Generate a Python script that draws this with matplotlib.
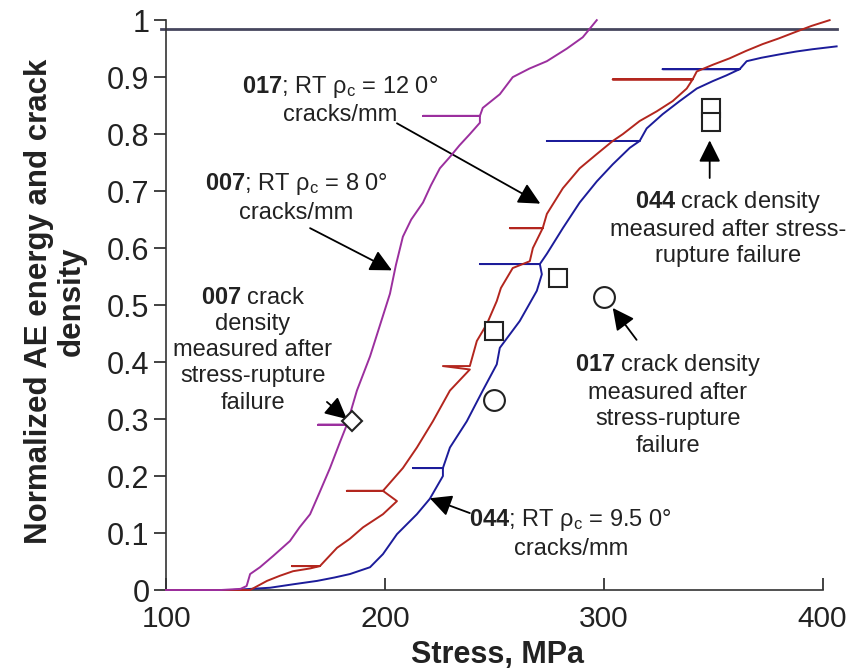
import matplotlib
matplotlib.use("Agg")
import matplotlib.pyplot as plt

plt.rcParams['font.family'] = ['Liberation Sans', 'DejaVu Sans']
plt.rcParams['mathtext.fontset'] = 'custom'
plt.rcParams['mathtext.rm'] = 'Liberation Sans'
plt.rcParams['mathtext.bf'] = 'Liberation Sans:bold'
plt.rcParams['mathtext.it'] = 'Liberation Sans:italic'

# normalized AE energy vs stress, one trace per specimen
# (the short horizontal excursions are load-hold events)
stress_007 = [100, 125, 134, 136.8, 138.4, 142.9, 149, 156.6, 161, 165.8, 170, 174.9,
              179.5, 182.6, 169.4, 182.6, 187.2, 193.2, 199, 202.3, 205, 208.2,
              212, 217.4, 221, 225.1, 229.7, 234, 238.8, 243.4, 243.4, 217.4, 243.4,
              244.7, 252.5, 258.4, 266, 274, 283.1, 290.4, 296.8]
value_007 = [0, 0, 0.002, 0.007, 0.028, 0.04, 0.06, 0.086, 0.11, 0.133, 0.17, 0.214,
             0.26, 0.29, 0.29, 0.29, 0.35, 0.41, 0.48, 0.52, 0.57, 0.62,
             0.65, 0.68, 0.71, 0.74, 0.76, 0.78, 0.80, 0.82, 0.832, 0.832, 0.832,
             0.846, 0.87, 0.90, 0.915, 0.928, 0.95, 0.97, 1.0]

stress_017 = [100, 138.4, 146.1, 152, 158, 166, 170.3, 157.5, 170.3, 178.1, 184, 190,
              199.1, 205.5, 199.1, 182.6, 199.1, 208.2, 214.6, 221.9, 229.7, 238.8,
              226.5, 238.8, 242, 246.6, 251.1, 253, 258.4, 266.2, 267.6, 272.1, 257.1,
              272.1, 274, 281.3, 289, 296.8, 304.1, 308.7, 316.4, 324.2, 331.5, 337.9,
              340.6, 304.1, 340.6, 342.5, 350, 357.5, 365, 372.6, 380, 388.1, 395, 403.2]
value_017 = [0, 0, 0.016, 0.025, 0.033, 0.038, 0.042, 0.042, 0.042, 0.074, 0.09, 0.11,
             0.133, 0.156, 0.174, 0.174, 0.174, 0.214, 0.25, 0.296, 0.35, 0.387,
             0.393, 0.393, 0.437, 0.467, 0.507, 0.53, 0.565, 0.577, 0.60, 0.635, 0.635,
             0.635, 0.66, 0.705, 0.74, 0.765, 0.788, 0.80, 0.823, 0.84, 0.858, 0.88,
             0.896, 0.896, 0.896, 0.91, 0.922, 0.933, 0.946, 0.958, 0.968, 0.98, 0.99, 1.0]

stress_044 = [100, 130, 147.5, 158, 169, 177, 184, 193.2, 199.1, 205.5, 214.6, 220.5,
              226.5, 226.5, 212.8, 226.5, 229.7, 237.4, 244.7, 251.1, 252.5, 261.6,
              269.4, 271.7, 270.8, 243.4, 270.8, 274, 281.3, 289, 296.8, 304.1, 311.9,
              316.4, 274, 316.4, 319.6, 326.9, 334.7, 342.5, 349.8, 356, 362.1, 326.9,
              362.1, 365.3, 372, 380.4, 388, 395.4, 406.4]
value_044 = [0, 0, 0.004, 0.01, 0.016, 0.022, 0.028, 0.04, 0.063, 0.098, 0.133, 0.16,
             0.20, 0.214, 0.214, 0.214, 0.25, 0.296, 0.35, 0.396, 0.425, 0.472,
             0.525, 0.554, 0.572, 0.572, 0.572, 0.59, 0.635, 0.68, 0.717, 0.747, 0.776,
             0.788, 0.788, 0.788, 0.81, 0.835, 0.858, 0.88, 0.893, 0.903, 0.914, 0.914,
             0.914, 0.928, 0.934, 0.94, 0.945, 0.949, 0.954]

# crack densities measured after stress-rupture failure
meas_007_x = [185]
meas_007_y = [0.297]
meas_044_x = [250, 279, 349, 349]
meas_044_y = [0.455, 0.547, 0.846, 0.822]
meas_017_x = [250, 300]
meas_017_y = [0.333, 0.514]

fig = plt.figure(figsize=(8.65, 6.72), dpi=100)
ax = fig.add_axes([0.192, 0.122, 0.759, 0.848])

ax.plot(stress_044, value_044, color='#1c1c9a', lw=1.4, clip_on=False, zorder=3)
ax.plot(stress_017, value_017, color='#b3261e', lw=1.4, clip_on=False, zorder=4)
ax.plot(stress_007, value_007, color='#9b2f9e', lw=1.4, clip_on=False, zorder=5)
ax.plot([97.5, 406.8], [0.985, 0.985], color='#46465e', lw=2, clip_on=False, zorder=2)

mk = dict(ls='none', mfc='white', mec='#222222', mew=1.5, zorder=6, clip_on=False)
ax.plot(meas_007_x, meas_007_y, marker='D', ms=10, **mk)
ax.plot(meas_044_x, meas_044_y, marker='s', ms=13, **mk)
ax.plot(meas_017_x, meas_017_y, marker='o', ms=15, **mk)

ax.set_xlim(100, 400)
ax.set_ylim(0, 1)
ax.set_xticks([100, 200, 300, 400])
ax.set_yticks([0, 0.1, 0.2, 0.3, 0.4, 0.5, 0.6, 0.7, 0.8, 0.9, 1])
ax.set_yticklabels(['0', '0.1', '0.2', '0.3', '0.4', '0.5', '0.6', '0.7', '0.8', '0.9', '1'])
ax.tick_params(axis='x', direction='in', length=9, width=1.2, labelsize=21.5, pad=11,
               colors='#222222')
ax.tick_params(axis='y', direction='out', length=9, width=1.2, labelsize=22, pad=3,
               colors='#222222')
for side in ['top', 'right']:
    ax.spines[side].set_visible(False)
for side in ['left', 'bottom']:
    ax.spines[side].set_color('#333333')
    ax.spines[side].set_linewidth(1.2)

fig.text(0.575, 0.025, 'Stress, MPa', fontsize=22, fontweight='bold', ha='center',
         va='center', color='#222222')
fig.text(0.064, 0.552, 'Normalized AE energy and crack\ndensity', fontsize=22.5,
         fontweight='bold', rotation=90, ha='center', va='center',
         multialignment='center', linespacing=1.1, color='#222222')

txt = dict(fontsize=17, ha='center', va='center', multialignment='center',
           linespacing=1.25, color='#222222', zorder=7)
arrow = dict(arrowstyle='-|>,head_length=0.6,head_width=0.3', mutation_scale=22,
             color='black', lw=1.3, shrinkA=0, shrinkB=0)

ax.text(179.5, 0.86, '$\\mathbf{017}$; RT ρ$_\\mathrm{c}$ = 12 0°\ncracks/mm', **txt)
ax.annotate('', xy=(271, 0.678), xytext=(205.5, 0.819), arrowprops=arrow)

ax.text(159.4, 0.689, '$\\mathbf{007}$; RT ρ$_\\mathrm{c}$ = 8 0°\ncracks/mm', **txt)
ax.annotate('', xy=(203.2, 0.561), xytext=(165.8, 0.635), arrowprops=arrow)

ax.text(139.7, 0.421, '$\\mathbf{007}$ crack\ndensity\nmeasured after\nstress-rupture\nfailure',
        **txt)
ax.annotate('', xy=(182.6, 0.30), xytext=(173.5, 0.33), arrowprops=arrow)

ax.text(356.6, 0.635, '$\\mathbf{044}$ crack density\nmeasured after stress-\nrupture failure',
        **txt)
ax.annotate('', xy=(348.4, 0.789), xytext=(348.4, 0.723), arrowprops=arrow)

ax.text(329.2, 0.326, '$\\mathbf{017}$ crack density\nmeasured after\nstress-rupture\nfailure',
        **txt)
ax.annotate('', xy=(304.1, 0.495), xytext=(315, 0.439), arrowprops=arrow)

ax.text(284.9, 0.099, '$\\mathbf{044}$; RT ρ$_\\mathrm{c}$ = 9.5 0°\ncracks/mm', **txt)
ax.annotate('', xy=(220.5, 0.161), xytext=(238.8, 0.135), arrowprops=arrow)

fig.savefig('out.png', dpi=100)
